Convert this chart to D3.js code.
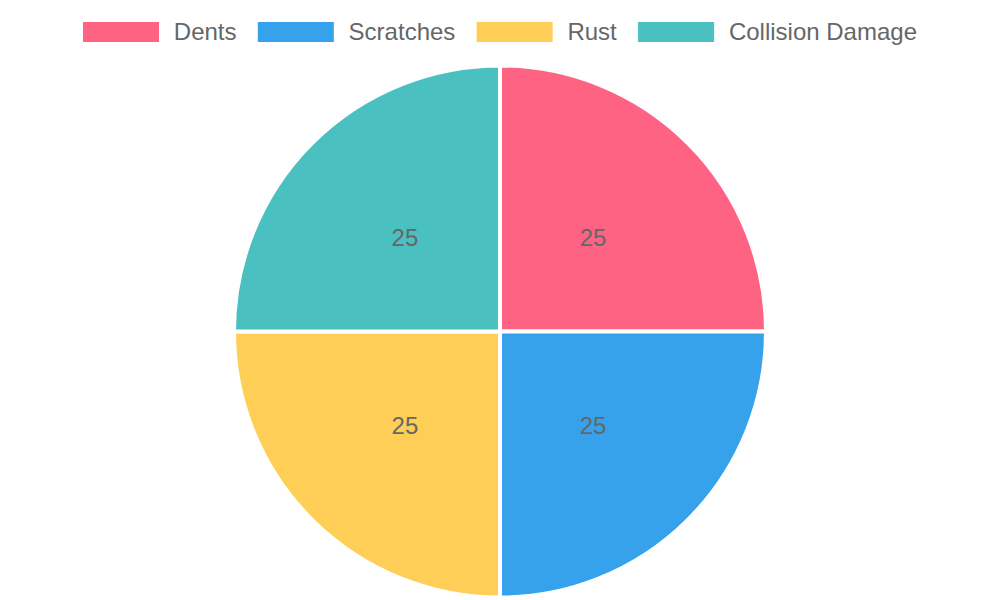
<!DOCTYPE html>
<html>
<head>
<meta charset="utf-8">
<script src="https://cdn.jsdelivr.net/npm/d3@7"></script>
<style>
  html, body { margin: 0; padding: 0; background: #fff; }
  svg { display: block; font-family: "Liberation Sans", Arial, sans-serif; }
</style>
</head>
<body>
<svg id="chart" width="1000" height="600"></svg>
<script>
const categories = ["Dents", "Scratches", "Rust", "Collision Damage"];
const values = [25, 25, 25, 25];
const colors = ["#FF6384", "#36A2EB", "#FFCE56", "#4BC0C0"];

const W = 1000, H = 600;
const svg = d3.select("#chart");

const data = categories.map((c, i) => ({ label: c, value: values[i], color: colors[i] }));

// Legend
const fontSize = 24, boxW = 76, boxH = 20, boxGap = 14.8, itemGap = 21.3, legendY = 32;
const legend = svg.append("g");
const items = legend.selectAll("g.item").data(data).enter().append("g").attr("class", "item");
items.append("rect")
  .attr("width", boxW).attr("height", boxH)
  .attr("y", legendY - boxH / 2)
  .attr("fill", d => d.color);
items.append("text")
  .attr("x", boxW + boxGap)
  .attr("y", legendY)
  .attr("dy", "0.35em")
  .attr("font-size", fontSize)
  .attr("fill", "#666")
  .text(d => d.label);
const widths = [];
items.each(function () {
  const t = d3.select(this).select("text").node().getComputedTextLength();
  widths.push(boxW + boxGap + t);
});
const total = d3.sum(widths) + itemGap * (widths.length - 1);
let x0 = (W - total) / 2;
items.attr("transform", (d, i) => {
  const x = x0;
  x0 += widths[i] + itemGap;
  return `translate(${x},0)`;
});

// Pie
const cx = 500, cy = 331.5, r = 266;
const pie = d3.pie().value(d => d.value).sort(null);
const arc = d3.arc().innerRadius(0).outerRadius(r);
const labelArc = d3.arc().innerRadius(r / 2).outerRadius(r / 2);

const g = svg.append("g").attr("transform", `translate(${cx},${cy})`);
const arcs = pie(data);
g.selectAll("path").data(arcs).enter().append("path")
  .attr("d", arc)
  .attr("fill", d => d.data.color)
  .attr("stroke", "#fff")
  .attr("stroke-width", 4)
  .attr("stroke-linejoin", "round");

g.selectAll("text.val").data(arcs).enter().append("text")
  .attr("class", "val")
  .attr("transform", d => {
    const [x, y] = labelArc.centroid(d);
    return `translate(${x - 1},${y})`;
  })
  .attr("text-anchor", "middle")
  .attr("dy", "0.35em")
  .attr("font-size", 24)
  .attr("fill", "#666")
  .text(d => d.data.value);
</script>
</body>
</html>
